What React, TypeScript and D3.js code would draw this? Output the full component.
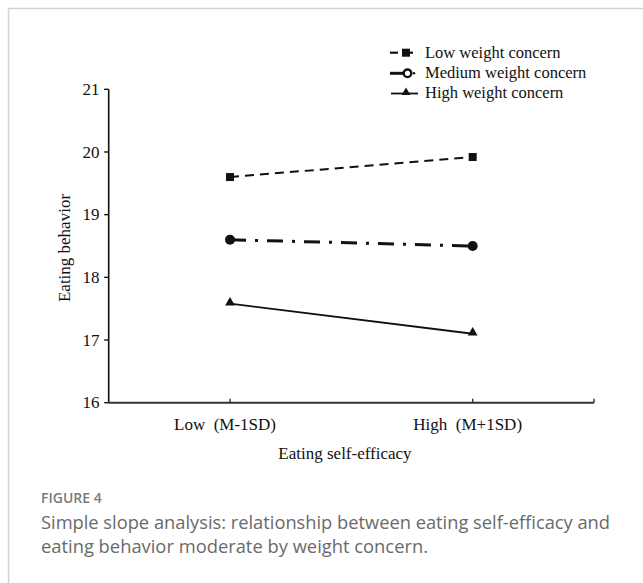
import React, { useEffect, useRef } from "react";
import * as d3 from "d3";

const categories = ["Low\u00a0\u00a0(M-1SD)", "High\u00a0\u00a0(M+1SD)"];
const yTicks = [16, 17, 18, 19, 20, 21];
const lowConcern = [19.6, 19.92];
const mediumConcern = [18.6, 18.5];
const highConcern = [17.58, 17.1];
const seriesNames = ["Low weight concern", "Medium weight concern", "High weight concern"];

const W = 643;
const H = 583;
const serif = "'Liberation Serif', 'Times New Roman', serif";
const sans = "'Open Sans', 'Noto Sans', sans-serif";

const App = () => {
  const ref = useRef<SVGSVGElement>(null);

  useEffect(() => {
    const svg = d3.select(ref.current);
    svg.selectAll("*").remove();

    // card border (runs off the right/bottom edge)
    svg
      .append("rect")
      .attr("x", 8.5)
      .attr("y", 8.5)
      .attr("width", 700)
      .attr("height", 700)
      .attr("fill", "#fff")
      .attr("stroke", "#d2d2d2")
      .attr("stroke-width", 1.5);

    const left = 108.7;
    const right = 594;
    const top = 89.3;
    const bottom = 402.7;

    const x = d3.scalePoint<string>().domain(categories).range([left, right]).padding(0.5);
    const y = d3.scaleLinear().domain([16, 21]).range([bottom, top]);

    const g = svg.append("g");

    // y axis
    g.append("line")
      .attr("x1", left)
      .attr("x2", left)
      .attr("y1", y(21))
      .attr("y2", y(16))
      .attr("stroke", "#111")
      .attr("stroke-width", 1.6);
    yTicks.forEach((t) => {
      g.append("line")
        .attr("x1", left - 4.5)
        .attr("x2", left)
        .attr("y1", y(t))
        .attr("y2", y(t))
        .attr("stroke", "#111")
        .attr("stroke-width", 1.4);
      g.append("text")
        .attr("x", 99.5)
        .attr("y", y(t))
        .attr("dy", "0.33em")
        .attr("text-anchor", "end")
        .attr("font-family", serif)
        .attr("font-size", 17)
        .attr("fill", "#111")
        .text(t);
    });

    // x axis
    g.append("line")
      .attr("x1", left)
      .attr("x2", right)
      .attr("y1", bottom)
      .attr("y2", bottom)
      .attr("stroke", "#333")
      .attr("stroke-width", 2);
    g.append("line")
      .attr("x1", right)
      .attr("x2", right)
      .attr("y1", bottom)
      .attr("y2", bottom - 4)
      .attr("stroke", "#333")
      .attr("stroke-width", 1.4);
    categories.forEach((c) => {
      g.append("line")
        .attr("x1", x(c)!)
        .attr("x2", x(c)!)
        .attr("y1", bottom)
        .attr("y2", bottom - 4)
        .attr("stroke", "#333")
        .attr("stroke-width", 1.4);
      g.append("text")
        .attr("x", x(c)! - 5)
        .attr("y", 430)
        .attr("text-anchor", "middle")
        .attr("font-family", serif)
        .attr("font-size", 17)
        .attr("fill", "#111")
        .text(c);
    });

    g.append("text")
      .attr("x", 345)
      .attr("y", 459)
      .attr("text-anchor", "middle")
      .attr("font-family", serif)
      .attr("font-size", 17)
      .attr("fill", "#111")
      .text("Eating self-efficacy");

    g.append("text")
      .attr("transform", `translate(70,${(top + bottom) / 2 + 2}) rotate(-90)`)
      .attr("text-anchor", "middle")
      .attr("font-family", serif)
      .attr("font-size", 17)
      .attr("fill", "#111")
      .text("Eating behavior");

    const line = d3
      .line<number>()
      .x((_, i) => x(categories[i])!)
      .y((d) => y(d));

    const series = [
      { values: lowConcern, dash: "9,6", width: 2 },
      { values: mediumConcern, dash: "16,9,3,9", width: 3 },
      { values: highConcern, dash: null, width: 1.8 },
    ];

    series.forEach((s) => {
      g.append("path")
        .attr("d", line(s.values))
        .attr("fill", "none")
        .attr("stroke", "#111")
        .attr("stroke-width", s.width)
        .attr("stroke-dasharray", s.dash);
    });

    const tri = d3.symbol().type(d3.symbolTriangle).size(42);

    lowConcern.forEach((v, i) => {
      g.append("rect")
        .attr("x", x(categories[i])! - 4)
        .attr("y", y(v) - 4)
        .attr("width", 8)
        .attr("height", 8)
        .attr("fill", "#111");
    });
    mediumConcern.forEach((v, i) => {
      g.append("circle")
        .attr("cx", x(categories[i])!)
        .attr("cy", y(v))
        .attr("r", 5)
        .attr("fill", "#111");
    });
    highConcern.forEach((v, i) => {
      g.append("path")
        .attr("d", tri()!)
        .attr("transform", `translate(${x(categories[i])},${y(v) - 1})`)
        .attr("fill", "#111");
    });

    // legend
    const lg = svg.append("g");
    const rows = [52.7, 73.3, 93.5];
    seriesNames.forEach((name, i) => {
      lg.append("text")
        .attr("x", 425)
        .attr("y", rows[i] + 4.8)
        .attr("font-family", serif)
        .attr("font-size", 16.5)
        .attr("fill", "#111")
        .text(name);
    });
    // low glyph
    lg.append("line").attr("x1", 390).attr("x2", 398).attr("y1", rows[0]).attr("y2", rows[0]).attr("stroke", "#111").attr("stroke-width", 2.2);
    lg.append("rect").attr("x", 402).attr("y", rows[0] - 4).attr("width", 8).attr("height", 8).attr("fill", "#111");
    lg.append("line").attr("x1", 410).attr("x2", 413).attr("y1", rows[0]).attr("y2", rows[0]).attr("stroke", "#111").attr("stroke-width", 2.2);
    // medium glyph
    lg.append("line").attr("x1", 390).attr("x2", 403).attr("y1", rows[1]).attr("y2", rows[1]).attr("stroke", "#111").attr("stroke-width", 3);
    lg.append("circle").attr("cx", 407.5).attr("cy", rows[1]).attr("r", 3.8).attr("fill", "#fff").attr("stroke", "#111").attr("stroke-width", 2.4);
    lg.append("circle").attr("cx", 414).attr("cy", rows[1]).attr("r", 1.2).attr("fill", "#111");
    // high glyph
    lg.append("line").attr("x1", 391).attr("x2", 418).attr("y1", rows[2]).attr("y2", rows[2]).attr("stroke", "#111").attr("stroke-width", 1.8);
    lg.append("path").attr("d", d3.symbol().type(d3.symbolTriangle).size(34)()!).attr("transform", `translate(406,${rows[2] - 1})`).attr("fill", "#111");

    // caption
    svg
      .append("text")
      .attr("x", 41)
      .attr("y", 502.5)
      .attr("font-family", sans)
      .attr("font-size", 14)
      .attr("font-weight", 600)
      .attr("fill", "#7a7a7a")
      .text("FIGURE 4");
    svg
      .append("text")
      .attr("x", 41)
      .attr("y", 529)
      .attr("font-family", sans)
      .attr("font-size", 18)
      .attr("fill", "#6a6a6a")
      .attr("textLength", 569)
      .attr("lengthAdjust", "spacingAndGlyphs")
      .text("Simple slope analysis: relationship between eating self-efficacy and");
    svg
      .append("text")
      .attr("x", 41)
      .attr("y", 552.5)
      .attr("font-family", sans)
      .attr("font-size", 18)
      .attr("fill", "#6a6a6a")
      .attr("textLength", 387)
      .attr("lengthAdjust", "spacingAndGlyphs")
      .text("eating behavior moderate by weight concern.");
  }, []);

  return (
    <div style={{ position: "absolute", left: 0, top: 0 }}>
      <svg ref={ref} width={W} height={H} style={{ display: "block", background: "#fff" }} />
    </div>
  );
};

export default App;
